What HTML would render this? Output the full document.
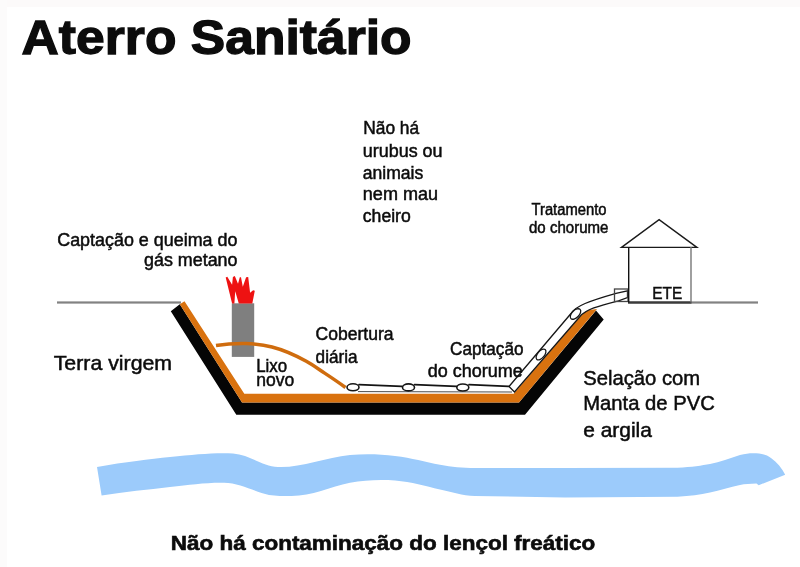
<!DOCTYPE html>
<html><head><meta charset="utf-8">
<style>
html,body{margin:0;padding:0;background:#fff;}
body{width:800px;height:567px;overflow:hidden;font-family:"Liberation Sans",sans-serif;}
svg{display:block;will-change:transform;transform:translateZ(0);}
text{font-family:"Liberation Sans",sans-serif;fill:#0c0c0c;stroke:#0c0c0c;stroke-width:0.5px;}
.t{stroke-width:1.3px;}
.c{stroke-width:0.6px;}
.b{font-weight:bold;}
</style></head><body>
<svg width="800" height="567" viewBox="0 0 800 567">
<rect width="800" height="567" fill="#ffffff"/>
<rect x="0" y="0" width="800" height="7" fill="#fcfafa"/>
<rect x="0" y="0" width="7" height="567" fill="#fcfbfb"/>

<!-- water -->
<path d="M97,467 C125,462 150,459 170,457 C195,454.5 215,452.5 233,453.5 C250,455 262,466 278,467 C300,468 325,458 350,455 C365,453.5 380,454 395,456 C412,458 425,462 440,464.8 C452,467 462,468 475,468 L565,468 L677.5,467.8 C692,467 702,465.5 710,464 C720,462 730,458 740,455 C745,453.8 749,453.2 753,453.2 C762,453.2 767,455 771,458 C777,462.5 782,468 785.2,474.8 L758.7,485.2 L756.5,483.6 C750,483.8 745,484.2 740,485 C735,486 730,487.4 725,488.7 C720,490 715,491.4 710,492.5 C700,494.8 690,496 677.5,496.8 L565,497.6 L475,496 C462,495.5 452,492 440,489.5 C425,486 412,482 395,480.5 C380,479.5 365,480 350,482.8 C330,487 312,496 291.5,496 C283,496 276,496 269,495 C255,492 240,483 224,482.8 C205,482.5 190,485 170,487 C148,489.5 125,492 101.6,495.4 Z" fill="#9ccbfb"/>

<!-- ground lines -->
<rect x="57" y="301.4" width="124" height="2.2" fill="#828282"/>
<rect x="628" y="301.4" width="130" height="2.2" fill="#828282"/>
<rect x="628" y="301.4" width="63.5" height="2.2" fill="#3a3a3a"/>

<!-- black liner -->
<polygon points="179.8,304.2 170.8,311.2 236.3,414.8 525,414.8 603.7,319.6 596,310.5 519,402.4 242,402.4" fill="#050505"/>
<!-- orange liner -->
<polygon points="184.5,301.2 179.8,304.2 242,402.6 519,402.6 597,309 585.5,310.5 513.7,393.8 244.3,393.8" fill="#d9720f"/>

<!-- chimney -->
<rect x="231.8" y="303.3" width="22.4" height="53.6" fill="#7f7f7f"/>
<!-- mound -->
<path d="M216,345.6 C226,344 236,343.4 246,343.6 C256,344 264,345 272,347 C283,349.8 295,355 306.3,361.3 C313,365 319,369.5 325,373.4 C332,378 338,382 345.5,387.5" fill="none" stroke="#cf6c0e" stroke-width="3.5"/>

<!-- flame -->
<path d="M225.7,277.5 L227.3,276.7 L232.1,284.8 L232.9,276.9 L234.8,276.1 L238,283.7 L239.8,277.3 L241,277.3 L242.8,286.8 L246.1,277.3 L248.2,276.9 L250.1,292.8 L253.1,290.2 L254.8,290.8 L252.3,303.6 L238.8,303.6 L235.2,291.2 L234.4,303.6 L232.1,303.6 Z" fill="#ee1212"/>

<!-- pipe -->
<g fill="#fff" stroke="#161616" stroke-width="1.3">
<path d="M353,384 L509,386.3 L513,391.8 L353,391.6 Z" stroke="none"/>
<g fill="none" stroke="#141414" stroke-width="1.7" stroke-linecap="round">
<path d="M359,384.6 L402,386.3"/><path d="M414.5,384.6 L456.5,386.3"/><path d="M469,384.7 L508.5,386.4"/>
</g>
<g fill="none" stroke="#4a4a4a" stroke-width="1">
<path d="M358,391.6 L512,392"/>
</g>
<path d="M509,386.5 L571,313.5 C575.5,306 589,301 616,293.3 L627.5,290.8 L627.5,297.5 L618.5,300.8 C598,306 586,309.5 580,316.5 L514.5,392 Z"/>
<ellipse cx="353" cy="387.3" rx="6" ry="3.5" stroke-width="1.6"/>
<ellipse cx="408.5" cy="387.4" rx="6" ry="3.5" stroke-width="1.6"/>
<ellipse cx="462.8" cy="387.5" rx="6" ry="3.5" stroke-width="1.6"/>
<ellipse cx="541" cy="354.5" rx="6.5" ry="3.4" transform="rotate(-50 541 354.5)"/>
<ellipse cx="575.5" cy="314" rx="6.5" ry="3.6" transform="rotate(-45 575.5 314)"/>
<rect x="614.5" y="289" width="13.5" height="12.5" fill="none" stroke="#444"/>
</g>

<!-- house -->
<g fill="none" stroke-width="1.4">
<path d="M621.5,247.4 L659.1,219.6 L696.9,247.4 Z" stroke="#1a1a1a" stroke-linejoin="miter"/>
<line x1="628.7" y1="247" x2="628.7" y2="302.5" stroke="#111"/>
<line x1="691" y1="247" x2="691" y2="302.5" stroke="#777"/>
</g>

<!-- text -->
<text class="b t" x="21.6" y="54.1" font-size="49" textLength="390" lengthAdjust="spacingAndGlyphs">Aterro Sanitário</text>

<text x="57.2" y="245.7" font-size="18" textLength="180.3" lengthAdjust="spacingAndGlyphs">Captação e queima do</text>
<text x="144" y="266.3" font-size="18" textLength="93.5" lengthAdjust="spacingAndGlyphs">gás metano</text>

<text x="363.2" y="134.1" font-size="18" textLength="56" lengthAdjust="spacingAndGlyphs">Não há</text>
<text x="362.8" y="157.1" font-size="18" textLength="79.7" lengthAdjust="spacingAndGlyphs">urubus ou</text>
<text x="362.8" y="178.5" font-size="18" textLength="60.5" lengthAdjust="spacingAndGlyphs">animais</text>
<text x="362.8" y="200" font-size="18" textLength="75.3" lengthAdjust="spacingAndGlyphs">nem mau</text>
<text x="362.8" y="221.7" font-size="18" textLength="48" lengthAdjust="spacingAndGlyphs">cheiro</text>

<text x="531.5" y="214.9" font-size="15.8" textLength="75" lengthAdjust="spacingAndGlyphs">Tratamento</text>
<text x="529" y="232.6" font-size="15.8" textLength="79.4" lengthAdjust="spacingAndGlyphs">do chorume</text>

<text x="652.3" y="298.7" font-size="17.4" textLength="30" lengthAdjust="spacingAndGlyphs">ETE</text>

<text x="315.6" y="340" font-size="18" textLength="78" lengthAdjust="spacingAndGlyphs">Cobertura</text>
<text x="315.6" y="362.5" font-size="18" textLength="42" lengthAdjust="spacingAndGlyphs">diária</text>

<text x="256.2" y="371.8" font-size="18.5" textLength="31" lengthAdjust="spacingAndGlyphs">Lixo</text>
<text x="256.2" y="386" font-size="18.5" textLength="38" lengthAdjust="spacingAndGlyphs">novo</text>

<text x="450" y="354.5" font-size="18" textLength="73.5" lengthAdjust="spacingAndGlyphs">Captação</text>
<text x="427.7" y="376.6" font-size="18" textLength="95" lengthAdjust="spacingAndGlyphs">do chorume</text>

<text x="53.7" y="370" font-size="21" textLength="118.4" lengthAdjust="spacingAndGlyphs">Terra virgem</text>

<text x="583.2" y="384.9" font-size="21" textLength="117" lengthAdjust="spacingAndGlyphs">Selação com</text>
<text x="583.2" y="409.6" font-size="21" textLength="131.7" lengthAdjust="spacingAndGlyphs">Manta de PVC</text>
<text x="583.2" y="437" font-size="21" textLength="68.7" lengthAdjust="spacingAndGlyphs">e argila</text>

<text class="b c" x="170.8" y="549.8" font-size="20" textLength="424.5" lengthAdjust="spacingAndGlyphs">Não há contaminação do lençol freático</text>
</svg>
</body></html>
